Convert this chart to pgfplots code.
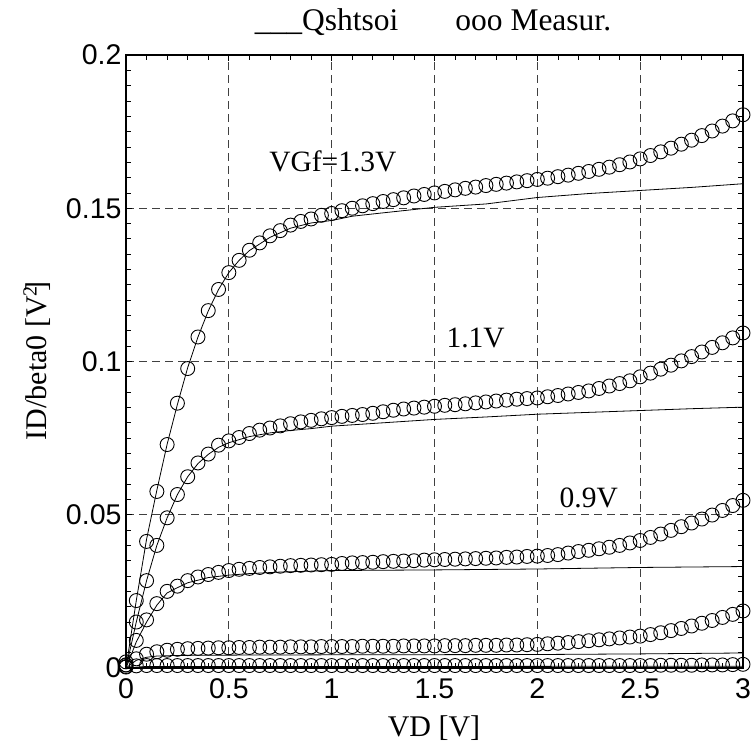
\documentclass[border=0pt]{standalone}
\usepackage{pgfplots}
\pgfplotsset{compat=1.18}
\usepackage{fontspec}
\setmainfont{Liberation Serif}
\newfontfamily\arialfont{Liberation Sans}

\pgfplotstableread{
x a b c d e
0 0.0020 0.0010 0.0010 0.0005 0.0003
0.05 0.0220 0.0150 0.0090 0.0030 0.0007
0.10 0.0413 0.0285 0.0157 0.0045 0.0008
0.15 0.0576 0.0400 0.0210 0.0053 0.0008
0.20 0.0729 0.0490 0.0250 0.0058 0.0008
0.25 0.0864 0.0566 0.0267 0.0061 0.0008
0.30 0.0977 0.0624 0.0285 0.0063 0.0008
0.35 0.1080 0.0669 0.0297 0.0064 0.0008
0.40 0.1166 0.0698 0.0305 0.0065 0.0008
0.45 0.1235 0.0727 0.0312 0.0066 0.0008
0.50 0.1290 0.0741 0.0318 0.0066 0.0008
0.55 0.1330 0.0752 0.0322 0.0067 0.0008
0.60 0.1363 0.0765 0.0325 0.0067 0.0008
0.65 0.1387 0.0776 0.0328 0.0068 0.0008
0.70 0.1410 0.0783 0.0330 0.0068 0.0008
0.75 0.1427 0.0790 0.0332 0.0068 0.0008
0.80 0.1445 0.0797 0.0334 0.0069 0.0008
0.85 0.1457 0.0803 0.0335 0.0069 0.0008
0.90 0.1465 0.0808 0.0336 0.0069 0.0008
0.95 0.1477 0.0813 0.0337 0.0070 0.0008
1.00 0.1483 0.0817 0.0338 0.0070 0.0008
1.05 0.1492 0.0821 0.0341 0.0070 0.0008
1.10 0.1500 0.0824 0.0343 0.0070 0.0008
1.15 0.1508 0.0827 0.0344 0.0071 0.0008
1.20 0.1515 0.0831 0.0345 0.0071 0.0008
1.25 0.1522 0.0836 0.0347 0.0071 0.0008
1.30 0.1528 0.0841 0.0348 0.0071 0.0008
1.35 0.1534 0.0845 0.0349 0.0072 0.0008
1.40 0.1540 0.0848 0.0350 0.0072 0.0008
1.45 0.1545 0.0851 0.0352 0.0072 0.0008
1.50 0.1550 0.0854 0.0353 0.0072 0.0008
1.55 0.1555 0.0857 0.0354 0.0073 0.0008
1.60 0.1560 0.0859 0.0355 0.0073 0.0008
1.65 0.1565 0.0862 0.0356 0.0073 0.0008
1.70 0.1569 0.0865 0.0357 0.0074 0.0008
1.75 0.1574 0.0868 0.0358 0.0074 0.0008
1.80 0.1578 0.0871 0.0359 0.0074 0.0008
1.85 0.1582 0.0874 0.0361 0.0075 0.0008
1.90 0.1586 0.0877 0.0362 0.0075 0.0008
1.95 0.1590 0.0879 0.0364 0.0076 0.0008
2.00 0.1594 0.0881 0.0365 0.0077 0.0008
2.05 0.1598 0.0885 0.0367 0.0079 0.0008
2.10 0.1603 0.0889 0.0370 0.0081 0.0008
2.15 0.1608 0.0894 0.0375 0.0083 0.0008
2.20 0.1614 0.0899 0.0380 0.0086 0.0008
2.25 0.1620 0.0904 0.0384 0.0089 0.0008
2.30 0.1627 0.0912 0.0389 0.0092 0.0008
2.35 0.1634 0.0920 0.0394 0.0095 0.0008
2.40 0.1642 0.0928 0.0400 0.0098 0.0008
2.45 0.1651 0.0937 0.0408 0.0101 0.0008
2.50 0.1661 0.0950 0.0416 0.0104 0.0008
2.55 0.1672 0.0962 0.0426 0.0109 0.0008
2.60 0.1684 0.0975 0.0437 0.0115 0.0009
2.65 0.1696 0.0988 0.0449 0.0122 0.0009
2.70 0.1709 0.1002 0.0461 0.0129 0.0009
2.75 0.1722 0.1016 0.0473 0.0137 0.0009
2.80 0.1737 0.1031 0.0486 0.0146 0.0010
2.85 0.1752 0.1046 0.0499 0.0155 0.0010
2.90 0.1768 0.1061 0.0514 0.0165 0.0010
2.95 0.1785 0.1077 0.0530 0.0175 0.0011
3.00 0.1805 0.1093 0.0547 0.0186 0.0012
}\meas

\pgfplotstableread{
x y
0 0
0.05 0.0220
0.10 0.0420
0.15 0.0580
0.20 0.0730
0.25 0.0860
0.30 0.0980
0.35 0.1080
0.40 0.1165
0.45 0.1235
0.50 0.1290
0.55 0.1330
0.60 0.1362
0.70 0.1405
0.80 0.1435
0.90 0.1452
1.00 0.1460
1.10 0.1474
1.25 0.1485
1.50 0.1503
1.75 0.1514
2.00 0.1535
2.25 0.1548
2.50 0.1558
2.75 0.1568
3.00 0.1580
}\simA
\pgfplotstableread{
x y
0 0
0.05 0.0150
0.10 0.0285
0.15 0.0400
0.20 0.0490
0.25 0.0566
0.30 0.0624
0.35 0.0667
0.40 0.0697
0.45 0.0720
0.50 0.0735
0.60 0.0755
0.70 0.0767
0.80 0.0775
0.90 0.0781
1.00 0.0789
1.25 0.0800
1.50 0.0811
1.75 0.0819
2.00 0.0828
2.25 0.0834
2.50 0.0840
2.75 0.0846
3.00 0.0851
}\simB
\pgfplotstableread{
x y
0 0
0.05 0.0085
0.10 0.0150
0.15 0.0205
0.20 0.0245
0.25 0.0262
0.30 0.0278
0.40 0.0295
0.50 0.0303
0.60 0.0308
0.75 0.0313
1.00 0.0318
1.50 0.0320
2.00 0.0323
2.50 0.0328
3.00 0.0331
}\simC
\pgfplotstableread{
x y
0 0
0.05 0.0025
0.10 0.0035
0.15 0.0039
0.25 0.0041
0.50 0.0042
1.00 0.0043
2.00 0.0044
2.50 0.0046
3.00 0.0049
}\simD
\pgfplotstableread{
x y
0 0
0.10 0.0005
1.50 0.0005
3.00 0.0006
}\simE

\begin{document}
\begin{tikzpicture}[x=1pt,y=1pt]
\useasboundingbox (0,0) rectangle (752,749);
\begin{axis}[
  at={(126pt,81pt)}, anchor=south west,
  scale only axis, width=617pt, height=613pt,
  xmin=0, xmax=3, ymin=0, ymax=0.2,
  xtick={0,0.5,1,1.5,2,2.5,3}, xticklabels={0,0.5,1,1.5,2,2.5,3},
  ytick={0,0.05,0.1,0.15,0.2}, yticklabels={0,0.05,0.1,0.15,0.2},
  minor x tick num=4, minor y tick num=9,
  tick align=inside, major tick length=6pt, minor tick length=5pt,
  xtick pos=both, ytick pos=both,
  axis line style={line width=1.2pt},
  tick style={line width=0.8pt, black},
  grid=major,
  major grid style={line width=0.8pt, black!75, dash pattern=on 8pt off 5pt},
  tick label style={font=\arialfont\fontsize{28.5}{28.5}\selectfont},
  xticklabel style={yshift=-7pt},
  yticklabel style={xshift=-1pt},
  clip=false,
]
\addplot[black, line width=0.8pt] table[x=x,y=y] {\simA};
\addplot[black, line width=0.8pt] table[x=x,y=y] {\simB};
\addplot[black, line width=0.8pt] table[x=x,y=y] {\simC};
\addplot[black, line width=0.8pt] table[x=x,y=y] {\simD};
\addplot[black, line width=0.8pt] table[x=x,y=y] {\simE};
\addplot[only marks, mark=o, mark size=7pt, mark options={line width=0.9pt, black}] table[x=x,y=a] {\meas};
\addplot[only marks, mark=o, mark size=7pt, mark options={line width=0.9pt, black}] table[x=x,y=b] {\meas};
\addplot[only marks, mark=o, mark size=7pt, mark options={line width=0.9pt, black}] table[x=x,y=c] {\meas};
\addplot[only marks, mark=o, mark size=7pt, mark options={line width=0.9pt, black}] table[x=x,y=d] {\meas};
\addplot[only marks, mark=o, mark size=7pt, mark options={line width=0.9pt, black}] table[x=x,y=e] {\meas};
\node[font=\fontsize{29.5}{30}\selectfont] at (axis cs:1.006,0.1652) {VGf=1.3V};
\node[font=\fontsize{29.5}{30}\selectfont] at (axis cs:1.70,0.1077) {1.1V};
\node[font=\fontsize{29.5}{30}\selectfont] at (axis cs:2.25,0.0555) {0.9V};
\end{axis}
\node[font=\fontsize{31.5}{32}\selectfont] at (433,727) {\_\_\_Qshtsoi\hspace{57pt}ooo Measur.};
\node[font=\fontsize{30}{31}\selectfont] at (434,21) {VD [V]};
\node[font=\fontsize{30}{31}\selectfont, rotate=90] at (37,388) {ID/beta0 [V\kern-1pt\raisebox{10pt}{\fontsize{20}{20}\selectfont 2}\kern-5pt]};
\end{tikzpicture}
\end{document}
